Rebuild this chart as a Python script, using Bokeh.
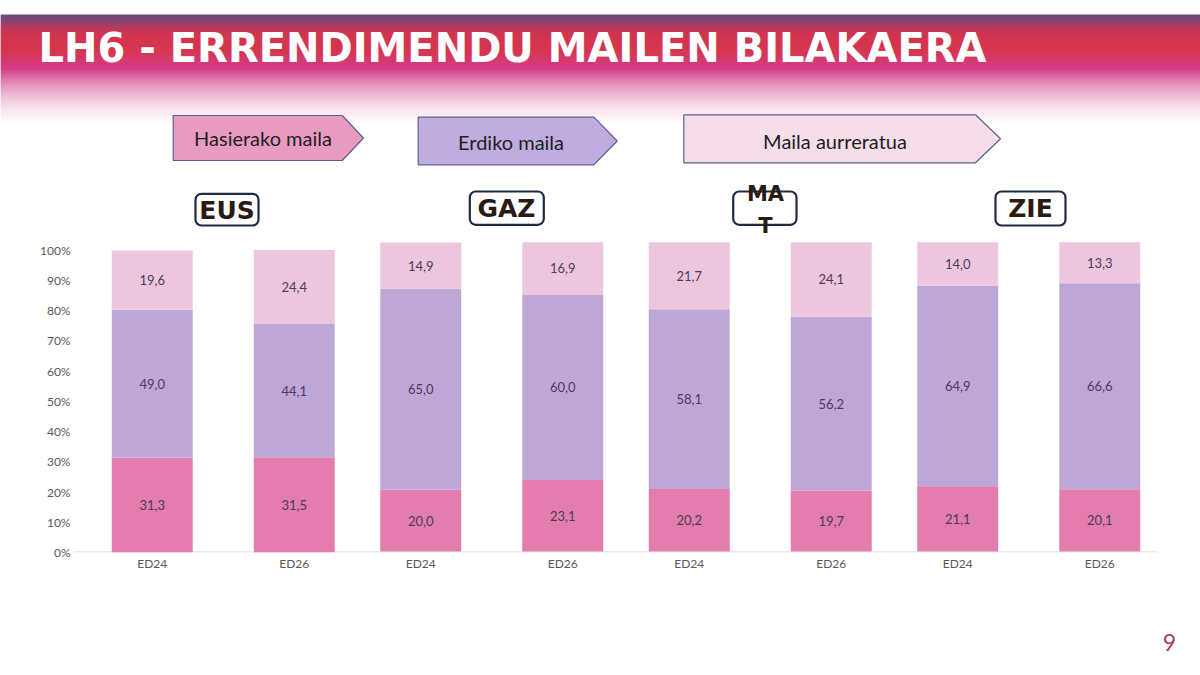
import numpy as np
from bokeh.plotting import figure
from bokeh.models import (ColumnDataSource, FactorRange, Range1d, FixedTicker,
                          PrintfTickFormatter, BoxAnnotation)
from bokeh.core.properties import value
from bokeh.embed import file_html
from bokeh.resources import INLINE

# ---------------- data ----------------
title = "LH6 - ERRENDIMENDU MAILEN BILAKAERA"
subjects = ["EUS", "GAZ", "MAT", "ZIE"]
subject_labels = ["EUS", "GAZ", "MA\nT", "ZIE"]
years = ["ED24", "ED26"]
levels = ["Hasierako maila", "Erdiko maila", "Maila aurreratua"]
hasierako = [31.3, 31.5, 20.0, 23.1, 20.2, 19.7, 21.1, 20.1]
erdiko = [49.0, 44.1, 65.0, 60.0, 58.1, 56.2, 64.9, 66.6]
aurreratua = [19.6, 24.4, 14.9, 16.9, 21.7, 24.1, 14.0, 13.3]
y_ticks = [0, 10, 20, 30, 40, 50, 60, 70, 80, 90, 100]
page_number = "9"

# ---------------- style ----------------
BAR_COLORS = ["#e27dad", "#bea6d6", "#ecc6dc"]
ARROW_FILLS = ["#e89ac1", "#c0acde", "#f5dde9"]
ARROW_LINE = "#5b5f8f"
FONT = "Lato"
LABEL_COLOR = "#4e3a5c"
AXIS_TEXT = "#595959"

W = 1184
HEAD_W = 1200
HEAD_H = 239                 # header strip: page y 0..239
MAIN_H = 361                 # chart strip: page y 239..600
FOOT_H = 59                  # footer strip: page y 600..659
FL, FR = 73, 1178            # chart frame left / right (px)
FRAME_H = 313                # chart frame height (page y 239..552)
FP, GP, RP = 0.1225, 0.0, 0.1225

def hex2rgb(h):
    h = h.lstrip("#")
    return np.array([int(h[i:i + 2], 16) for i in (0, 2, 4)], dtype=float)

def strip(top, height, width):
    f = figure(width=width, height=height, x_range=Range1d(0, width),
               y_range=Range1d(top + height, top), x_axis_type=None,
               y_axis_type=None, output_backend="svg", toolbar_location=None,
               min_border=0, outline_line_color=None,
               background_fill_color="white", border_fill_color="white")
    f.grid.visible = False
    return f

# ================= header =================
header = strip(0, HEAD_H, HEAD_W)
stops = [(14, "#6a4b80"), (20, "#8a4272"), (30, "#c93553"), (37, "#d5344f"),
         (50, "#d5364f"), (57, "#d53868"), (68, "#d63d87"), (77, "#de72a8"),
         (87, "#e8a0c4"), (97, "#f1c5db"), (107, "#f7e2ed"), (115, "#fbf0f5"),
         (123, "#ffffff")]
sy = np.array([s[0] for s in stops], dtype=float)
sc = np.array([hex2rgb(s[1]) for s in stops])
rows = np.arange(14, 123, 1.0)
cols = []
for r in rows:
    rgb = tuple(int(round(np.interp(r, sy, sc[:, k]))) for k in range(3))
    cols.append("#%02x%02x%02x" % rgb)
header.quad(left=0, right=HEAD_W, top=rows, bottom=rows + 1.5, color=cols,
            line_color=None)

header.text(x=[38], y=[47], text=[title], text_font=value("DejaVu Sans"),
            text_font_style="bold", text_font_size="40px", text_color="white",
            text_baseline="middle", text_align="left")

arrow_shapes = [
    ([172.7, 341.7, 363, 341.7, 172.7], [115, 115, 137.5, 160, 160]),
    ([417.7, 593.3, 616.7, 593.3, 417.7], [116.7, 116.7, 140.5, 164.3, 164.3]),
    ([683.3, 975, 1000, 975, 683.3], [114.3, 114.3, 138.3, 162.3, 162.3]),
]
header.patches(xs=[s[0] for s in arrow_shapes], ys=[s[1] for s in arrow_shapes],
               fill_color=ARROW_FILLS, line_color=ARROW_LINE, line_width=1.2)
header.text(x=[262.5, 510.5, 834.5], y=[137, 141.7, 140], text=levels,
            text_font=value("Lato"), text_font_size="20px",
            text_color="#1e1e1e", text_align="center", text_baseline="middle")

boxes = [(195, 258, 193.3, 225), (469.3, 543.3, 191, 224.3),
         (732.7, 796, 191, 224.3), (995, 1065, 191, 225)]
for (l, r, t, b) in boxes:
    header.add_layout(BoxAnnotation(left=l, right=r, top=t, bottom=b,
                                    fill_color="white", fill_alpha=1.0,
                                    line_color="#1e2a44", line_alpha=1.0,
                                    line_width=2.2, border_radius=6,
                                    level="underlay"))
header.text(x=[226.5, 506, 1030], y=[210, 208, 208],
            text=[subject_labels[0], subject_labels[1], subject_labels[3]],
            text_font=value("DejaVu Sans"), text_font_style="bold",
            text_font_size="25px", text_color="#2a1b12",
            text_align="center", text_baseline="middle")
header.text(x=[765], y=[209.5], text=[subject_labels[2]],
            text_font=value("DejaVu Sans"), text_font_style="bold",
            text_font_size="21px", text_color="#2a1b12", text_line_height=1.3,
            text_align="center", text_baseline="middle")

# ================= main chart =================
factors = [(s, y) for s in subjects for y in years]
xr = FactorRange(*factors, factor_padding=FP, group_padding=GP,
                 range_padding=RP, range_padding_units="absolute")
SYN_LEN = len(factors) + len(subjects) * FP + (len(subjects) - 1) * GP + 2 * RP
U = (FR - FL) / SYN_LEN

def sx(px):
    return list(-RP + (np.asarray(px, dtype=float) - FL) / U)

p = figure(x_range=xr, y_range=Range1d(0, FRAME_H / 3.024), width=W,
           height=MAIN_H, output_backend="svg", toolbar_location=None,
           min_border_left=FL, min_border_right=W - FR, min_border_top=0,
           min_border_bottom=MAIN_H - FRAME_H, outline_line_color=None,
           background_fill_color="white", border_fill_color="white")
p.extra_y_ranges = {"b": Range1d(-1 / 3.093, -1 / 3.093 + FRAME_H / 3.093)}

p.segment(x0=sx([FL]), x1=sx([1157]), y0=[0.5 / 3.024], y1=[0.5 / 3.024],
          line_color="#d9d9d9", line_width=1)

h = np.array(hasierako)
e = np.array(erdiko)
a = np.array(aurreratua)
data = dict(x=factors, h=h, e=e, a=a,
            mh=h / 2, me=h + e / 2, ma=h + e + a / 2,
            th=[f"{v:.1f}".replace(".", ",") for v in h],
            te=[f"{v:.1f}".replace(".", ",") for v in e],
            ta=[f"{v:.1f}".replace(".", ",") for v in a])

def subset(idx):
    return ColumnDataSource({k: [v[i] for i in idx] for k, v in data.items()})

src_a = subset([0, 1])
src_b = subset([2, 3, 4, 5, 6, 7])

for src, rng in ((src_a, "default"), (src_b, "b")):
    p.vbar_stack(["h", "e", "a"], x="x", width=0.64, color=BAR_COLORS,
                 line_color=None, source=src, y_range_name=rng)
    for ycol, tcol in (("mh", "th"), ("me", "te"), ("ma", "ta")):
        p.text(x="x", y=ycol, text=tcol, source=src, y_range_name=rng,
               text_font=value(FONT), text_font_size="13px",
               text_color=LABEL_COLOR, text_align="center",
               text_baseline="middle")

p.grid.visible = False
yax = p.yaxis[0]
yax.ticker = FixedTicker(ticks=y_ticks)
yax.formatter = PrintfTickFormatter(format="%d%%")
yax.axis_line_color = None
yax.major_tick_line_color = None
yax.minor_tick_line_color = None
yax.major_tick_out = 0
yax.major_tick_in = 0
yax.major_label_standoff = 3
yax.major_label_text_font = FONT
yax.major_label_text_font_size = "12px"
yax.major_label_text_color = AXIS_TEXT

xax = p.xaxis[0]
xax.axis_line_color = None
xax.major_tick_line_color = None
xax.minor_tick_line_color = None
xax.major_tick_out = 0
xax.major_tick_in = 0
xax.major_label_standoff = 3
xax.major_label_text_font = FONT
xax.major_label_text_font_size = "12px"
xax.major_label_text_color = AXIS_TEXT
xax.group_text_font_size = "1px"
xax.group_text_alpha = 0
xax.separator_line_color = None

# ================= footer =================
footer = strip(HEAD_H + MAIN_H, FOOT_H, W)
footer.text(x=[1169], y=[642], text=[page_number], text_font=value(FONT),
            text_font_size="23px", text_color="#a93a64",
            text_align="center", text_baseline="middle")

open("out.html", "w").write(file_html([header, p, footer], INLINE))
